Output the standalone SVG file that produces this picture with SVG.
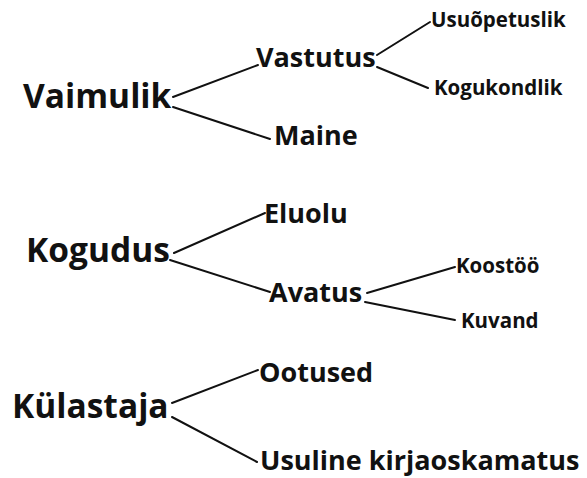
<svg xmlns="http://www.w3.org/2000/svg" width="587" height="478" viewBox="0 0 587 478">
<style>
text{font-family:"Open Sans","DejaVu Sans",sans-serif;font-weight:700;fill:#111}
.l1{font-size:33.5px}
.l2{font-size:27px}
.l3{font-size:20.5px}
#connectors line{stroke:#111;stroke-width:2;stroke-linecap:round}
</style>
<rect width="587" height="478" fill="#fff"/>
<g id="connectors">
<line x1="173" y1="97" x2="258" y2="65"/>
<line x1="173" y1="107" x2="270" y2="139"/>
<line x1="377" y1="55" x2="430" y2="22"/>
<line x1="377" y1="67" x2="428" y2="88"/>
<line x1="174" y1="253" x2="265" y2="213"/>
<line x1="170" y1="260" x2="270" y2="292"/>
<line x1="367" y1="293" x2="455" y2="267"/>
<line x1="365" y1="302" x2="455" y2="320"/>
<line x1="172" y1="403" x2="258" y2="370"/>
<line x1="172" y1="417" x2="257" y2="462"/>
</g>
<g id="vaimulik"><text class="l1" x="23" y="108">Vaimulik</text></g>
<g id="vastutus"><text class="l2" x="256" y="67">Vastutus</text></g>
<g id="usuopetuslik"><text class="l3" x="431" y="27">Usuõpetuslik</text></g>
<g id="kogukondlik"><text class="l3" x="434" y="95">Kogukondlik</text></g>
<g id="maine"><text class="l2" x="274" y="145">Maine</text></g>
<g id="kogudus"><text class="l1" x="26" y="262">Kogudus</text></g>
<g id="eluolu"><text class="l2" x="264" y="223">Eluolu</text></g>
<g id="avatus"><text class="l2" x="269" y="302">Avatus</text></g>
<g id="koostoo"><text class="l3" x="456" y="273">Koostöö</text></g>
<g id="kuvand"><text class="l3" x="461" y="328">Kuvand</text></g>
<g id="kulastaja"><text class="l1" x="12" y="418">Külastaja</text></g>
<g id="ootused"><text class="l2" x="259" y="382">Ootused</text></g>
<g id="usuline"><text class="l2" x="260" y="470">Usuline kirjaoskamatus</text></g>
</svg>
